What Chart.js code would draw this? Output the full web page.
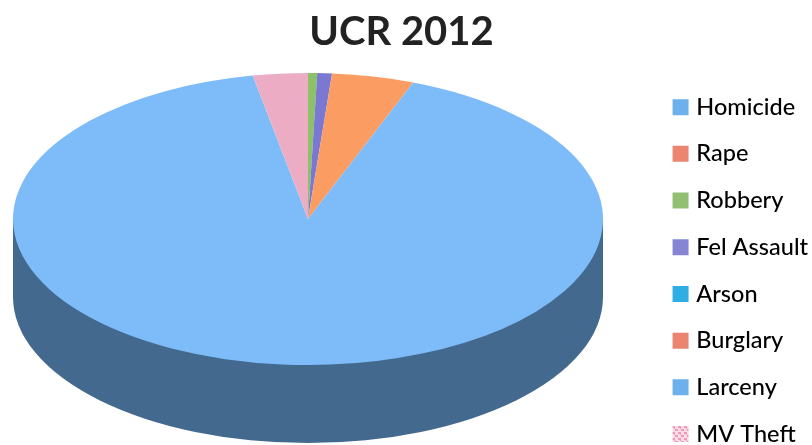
<!DOCTYPE html>
<html>
<head>
<meta charset="utf-8">
<style>
  html, body { margin: 0; padding: 0; background: #fff; }
  #wrap { width: 812px; height: 445px; }
</style>
<script src="https://cdn.jsdelivr.net/npm/chart.js@4"></script>
</head>
<body>
<div id="wrap"><canvas id="chart1"></canvas></div>
<script>
const categories = ["Homicide", "Rape", "Robbery", "Fel Assault", "Arson", "Burglary", "Larceny", "MV Theft"];
const ucr2012 = [0, 0, 0.5, 0.8, 0, 4.5, 91.2, 3.0];
const sliceColors = ["#7ab8f5", "#ee8a6e", "#8cc168", "#7a78d2", "#2fade5", "#fb9c62", "#7ebcf9", "#ecadc4"];
const legendColors = ["#6cb0ec", "#ec8570", "#93bf72", "#8585d3", "#2fade5", "#ec8570", "#6cb0ec", null];

// the flat pie gets squashed into an ellipse, with the rim drawn underneath
const TILT = { cx: 308, cy: 219, rx: 295, ry: 146, depth: 78, rim: "#44698f" };
const LEGEND_SHIFT = { x: 15, y: 24 };

function mvPattern() {
  const c = document.createElement("canvas");
  c.width = 6;
  c.height = 6;
  const g = c.getContext("2d");
  g.fillStyle = "#fbdce6";
  g.fillRect(0, 0, 6, 6);
  g.fillStyle = "#ee9db9";
  g.fillRect(0, 0, 3, 2);
  g.fillRect(3, 3, 3, 2);
  g.fillRect(2, 2, 1, 1);
  return g.createPattern(c, "repeat");
}

const tiltPlugin = {
  id: "tilt",
  afterLayout(chart) {
    const legend = chart.legend;
    legend.left += LEGEND_SHIFT.x;
    legend.right += LEGEND_SHIFT.x;
    legend.top += LEGEND_SHIFT.y;
    legend.bottom += LEGEND_SHIFT.y;
  },
  beforeDatasetsDraw(chart) {
    const ctx = chart.ctx;
    const arc = chart.getDatasetMeta(0).data[0];
    const { cx, cy, rx, ry, depth, rim } = TILT;
    ctx.save();
    ctx.fillStyle = rim;
    ctx.beginPath();
    ctx.ellipse(cx, cy + depth, rx, ry, 0, 0, Math.PI);
    ctx.lineTo(cx - rx, cy);
    ctx.lineTo(cx + rx, cy);
    ctx.closePath();
    ctx.fill();
    ctx.translate(cx, cy);
    ctx.scale(rx / arc.outerRadius, ry / arc.outerRadius);
    ctx.translate(-arc.x, -arc.y);
  },
  afterDatasetsDraw(chart) {
    chart.ctx.restore();
  }
};

new Chart(document.getElementById("chart1").getContext("2d"), {
  type: "pie",
  data: {
    labels: categories,
    datasets: [{ data: ucr2012, backgroundColor: sliceColors, borderWidth: 0 }]
  },
  plugins: [tiltPlugin],
  options: {
    responsive: true,
    maintainAspectRatio: false,
    animation: false,
    layout: { padding: { left: 0, right: 9, top: 0, bottom: 0 } },
    plugins: {
      tooltip: { enabled: false },
      title: {
        display: true,
        text: "UCR 2012",
        color: "#222222",
        font: { family: "Lato", size: 40, weight: "bold" },
        padding: { top: 8, bottom: 10 }
      },
      legend: {
        position: "right",
        align: "end",
        labels: {
          usePointStyle: true,
          pointStyle: "rect",
          boxWidth: 8,
          boxHeight: 16,
          padding: 23.2,
          color: "#1c1c1c",
          font: { family: "Lato", size: 23.5, weight: "500" },
          generateLabels() {
            return categories.map((name, i) => ({
              text: name,
              fillStyle: legendColors[i] || mvPattern(),
              strokeStyle: "transparent",
              lineWidth: 0,
              pointStyle: "rect",
              index: i
            }));
          }
        }
      }
    }
  }
});
</script>
</body>
</html>
